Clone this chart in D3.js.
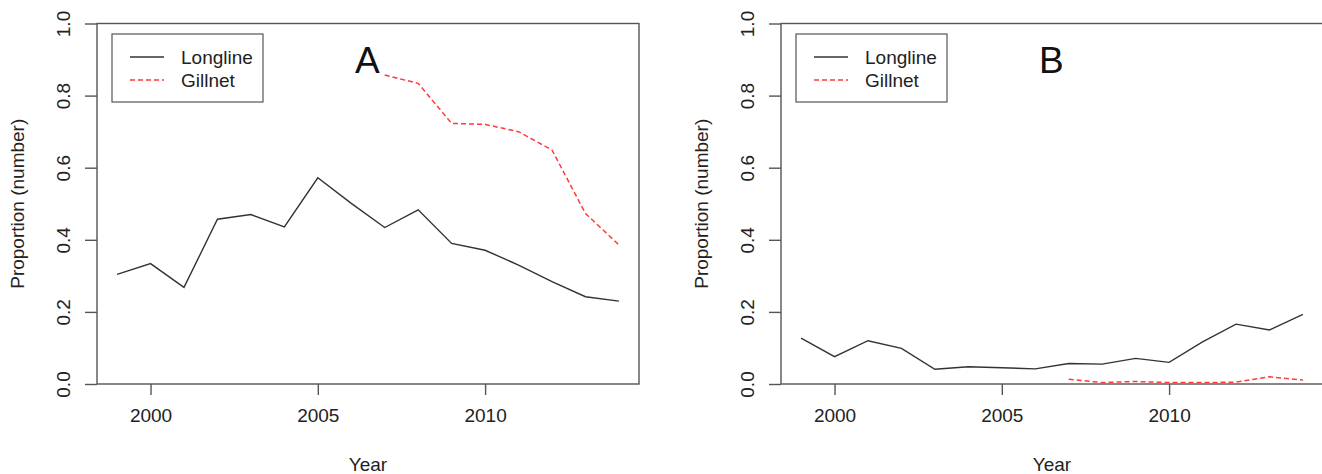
<!DOCTYPE html>
<html>
<head>
<meta charset="utf-8">
<script src="https://cdn.jsdelivr.net/npm/d3@7"></script>
<style>
  body { margin: 0; background: #fff; }
  svg { font-family: "Liberation Sans", Arial, sans-serif; }
  .axis path, .axis line { stroke: #555; stroke-width: 1.4; }
  .axis text { fill: #222; font-size: 19px; }
  .box { fill: none; stroke: #555; stroke-width: 1.4; }
</style>
</head>
<body>
<script>
// data
var years = [1999, 2000, 2001, 2002, 2003, 2004, 2005, 2006, 2007, 2008, 2009, 2010, 2011, 2012, 2013, 2014];
var gillYears = [2007, 2008, 2009, 2010, 2011, 2012, 2013, 2014];

var longlineA = [0.304, 0.334, 0.268, 0.457, 0.470, 0.436, 0.572, 0.501, 0.434, 0.483, 0.390, 0.371, 0.330, 0.284, 0.242, 0.230];
var gillnetA = [0.857, 0.834, 0.723, 0.720, 0.700, 0.649, 0.473, 0.386];

var longlineB = [0.127, 0.076, 0.120, 0.099, 0.041, 0.048, 0.045, 0.042, 0.057, 0.055, 0.071, 0.060, 0.117, 0.166, 0.150, 0.193];
var gillnetB = [0.013, 0.004, 0.007, 0.004, 0.004, 0.005, 0.020, 0.011];

var yTicks = [0, 0.2, 0.4, 0.6, 0.8, 1.0];
var xTicks = [2000, 2005, 2010];
var seriesNames = ["Longline", "Gillnet"];

(function(){
  var width = 1322, height = 474;

  var svg = d3.select("body").append("svg")
    .attr("width", width)
    .attr("height", height);

  // panel A and B, same size, B runs off the right edge like the original
  drawPanel(svg, 97, "A", longlineA, gillnetA, 355);
  drawPanel(svg, 781, "B", longlineB, gillnetB, 1039);

  function drawPanel(svg, left, letter, longline, gillnet, letterX){
    var top = 23.5, bottom = 384,
        plotW = 542;

    // R style: 4% padding on the x range
    var pad = (2014 - 1999) * 0.04;
    var x = d3.scaleLinear()
      .domain([1999 - pad, 2014 + pad])
      .range([left, left + plotW]);
    var y = d3.scaleLinear()
      .domain([0, 1])
      .range([bottom, top]);

    var g = svg.append("g");

    // y axis: ticks outward from the box, labels rotated
    var yAxis = g.append("g")
      .attr("class", "axis")
      .attr("transform", "translate(" + left + ",0)")
      .call(d3.axisLeft(y).tickValues(yTicks).tickSize(12).tickPadding(0)
        .tickFormat(d3.format(".1f")));
    yAxis.select(".domain").remove();
    yAxis.selectAll(".tick text")
      .attr("x", 0).attr("y", 0)
      .attr("text-anchor", "middle")
      .attr("transform", "translate(-34,0) rotate(-90)")
      .attr("dy", "0.35em");

    // x axis ticks below the box
    var xAxis = g.append("g")
      .attr("class", "axis")
      .attr("transform", "translate(0," + bottom + ")")
      .call(d3.axisBottom(x).tickValues(xTicks).tickSize(11).tickPadding(14)
        .tickFormat(d3.format("d")));
    xAxis.select(".domain").remove();

    // box round the plot
    g.append("rect")
      .attr("class", "box")
      .attr("x", left).attr("y", top)
      .attr("width", plotW).attr("height", bottom - top);

    // axis titles
    g.append("text")
      .attr("transform", "translate(" + (left - 80) + "," + ((top + bottom) / 2) + ") rotate(-90)")
      .attr("text-anchor", "middle")
      .attr("dy", "0.35em")
      .style("font-size", "19px")
      .attr("fill", "#222")
      .text("Proportion (number)");

    g.append("text")
      .attr("x", (left + left + plotW) / 2)
      .attr("y", 471)
      .attr("text-anchor", "middle")
      .style("font-size", "19px")
      .attr("fill", "#222")
      .text("Year");

    var line = d3.line()
      .x(function(d){ return x(d[0]); })
      .y(function(d){ return y(d[1]); });

    g.append("path")
      .datum(d3.zip(years, longline))
      .attr("d", line)
      .attr("fill", "none")
      .attr("stroke", "#333")
      .attr("stroke-width", 1.4);

    g.append("path")
      .datum(d3.zip(gillYears, gillnet))
      .attr("d", line)
      .attr("fill", "none")
      .attr("stroke", "#ff3b3b")
      .attr("stroke-width", 1.5)
      .attr("stroke-dasharray", "5,3");

    // panel letter
    g.append("text")
      .attr("x", letterX)
      .attr("y", 73)
      .style("font-size", "37px")
      .attr("fill", "#111")
      .text(letter);

    // legend
    var lx = left + 15, ly = 34;
    var legend = g.append("g");
    legend.append("rect")
      .attr("x", lx).attr("y", ly)
      .attr("width", 151).attr("height", 68)
      .attr("fill", "#fff")
      .attr("stroke", "#555")
      .attr("stroke-width", 1.2);

    seriesNames.forEach(function(name, i){
      var yy = ly + 23 + i * 23;
      legend.append("line")
        .attr("x1", lx + 18).attr("x2", lx + 52)
        .attr("y1", yy).attr("y2", yy)
        .attr("stroke", i == 0 ? "#333" : "#ff3b3b")
        .attr("stroke-width", 1.4)
        .attr("stroke-dasharray", i == 0 ? null : "5,3");
      legend.append("text")
        .attr("x", lx + 69)
        .attr("y", yy)
        .attr("dy", "0.35em")
        .style("font-size", "19px")
        .attr("fill", "#222")
        .text(name);
    });
  };
})();
</script>
</body>
</html>
